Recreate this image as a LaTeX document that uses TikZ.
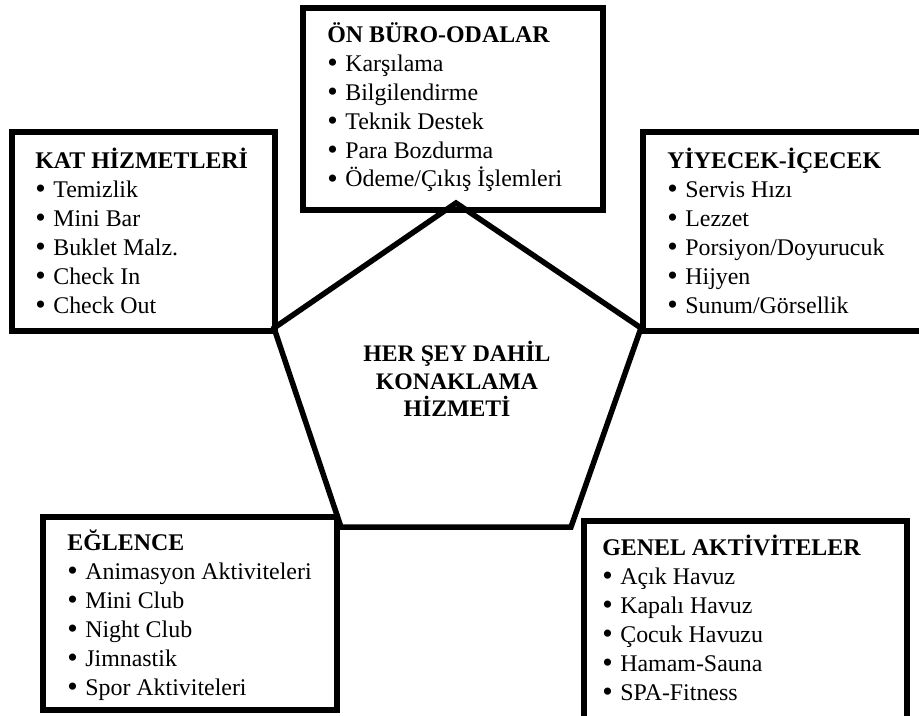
\documentclass[tikz,border=0pt]{standalone}
\usepackage{fontspec}
\setmainfont{Liberation Serif}
\newcommand\madde{\makebox[0.36cm][l]{\raisebox{-0.1ex}{\fontsize{17}{17}\selectfont\textbullet}}}

\begin{document}
\begin{tikzpicture}[x=0.02cm,y=-0.02cm,
		cerceve/.style={line width=0.11cm},
		liste/.style={anchor=base west,align=left,inner sep=0pt,font=\fontsize{13.6}{16.4}\selectfont},
		merkezyazi/.style={align=center,inner sep=0pt,font=\fontsize{13.5}{15.6}\selectfont\bfseries}]
	\useasboundingbox (0,0) rectangle (919,716);
	\clip (0,0) rectangle (919,716);
	
	% kutular
	\draw[cerceve] (303,8) rectangle (603,210);
	\draw[cerceve] (12,132) rectangle (275,331);
	\draw[cerceve] (643,132) rectangle (925,331);
	\draw[cerceve] (43,517) rectangle (337,710);
	\draw[cerceve] (584,521) rectangle (907,725);
	
	% besgen
	\draw[cerceve] (456,203) -- (641,328) -- (571,527) -- (341,527) -- (274,328) -- cycle;
	\node[merkezyazi] (merkez) at (457,379) {HER ŞEY DAHİL\\KONAKLAMA\\HİZMETİ};
	
	% listeler (son satirin tabanina gore)
	\node[liste] (onburo) at (327,187) {\textbf{ÖN BÜRO-ODALAR}\\\madde Karşılama\\\madde Bilgilendirme\\\madde Teknik Destek\\\madde Para Bozdurma\\\madde Ödeme/Çıkış İşlemleri};
	\node[liste] (kat) at (35,313) {\textbf{KAT HİZMETLERİ}\\\madde Temizlik\\\madde Mini Bar\\\madde Buklet Malz.\\\madde Check In\\\madde Check Out};
	\node[liste] (yiyecek) at (667,313) {\textbf{YİYECEK-İÇECEK}\\\madde Servis Hızı\\\madde Lezzet\\\madde Porsiyon/Doyurucuk\\\madde Hijyen\\\madde Sunum/Görsellik};
	\node[liste] (eglence) at (67,695) {\textbf{EĞLENCE}\\\madde Animasyon Aktiviteleri\\\madde Mini Club\\\madde Night Club\\\madde Jimnastik\\\madde Spor Aktiviteleri};
	\node[liste] (genel) at (602,700) {\textbf{GENEL AKTİVİTELER}\\\madde Açık Havuz\\\madde Kapalı Havuz\\\madde Çocuk Havuzu\\\madde Hamam-Sauna\\\madde SPA-Fitness};
\end{tikzpicture}
\end{document}
